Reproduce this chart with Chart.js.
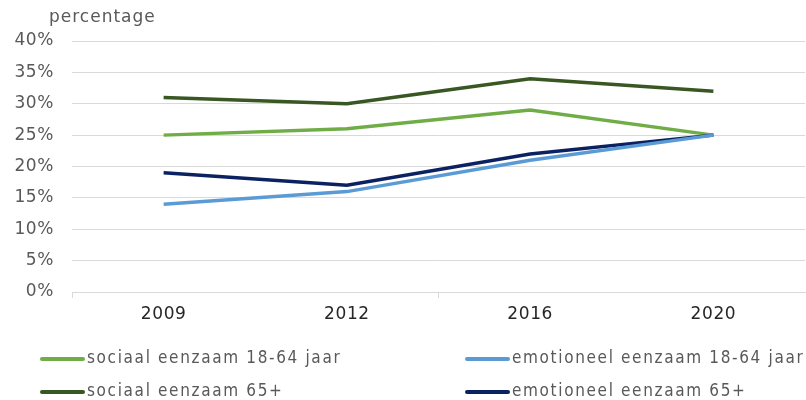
<!DOCTYPE html>
<html><head><meta charset="utf-8">
<script src="https://cdn.jsdelivr.net/npm/chart.js@4/dist/chart.umd.min.js"></script>
<style>html,body{margin:0;padding:0;background:#fff}#wrap{width:806px;height:400px;position:relative}</style>
</head><body><div id="wrap"><canvas id="c" width="806" height="400"></canvas></div>
<script>
const categories = ["2009", "2012", "2016", "2020"];
const sociaal1864 = [25, 26, 29, 25];
const emotioneel1864 = [14, 16, 21, 25];
const sociaal65 = [31, 30, 34, 32];
const emotioneel65 = [19, 17, 22, 25];
const seriesLabels = ["sociaal eenzaam 18-64 jaar", "emotioneel eenzaam 18-64 jaar", "sociaal eenzaam 65+", "emotioneel eenzaam 65+"];
const yTicks = [0, 5, 10, 15, 20, 25, 30, 35, 40];
const yTitle = "percentage";

const colors = ["#70AD47", "#5B9BD5", "#385723", "#0B2262"];
const dataArr = [sociaal1864, emotioneel1864, sociaal65, emotioneel65];
const order = [2, 0, 3, 1];

const spacingPlugin = {
  id: 'spacing',
  beforeUpdate(chart) { chart.ctx.letterSpacing = '0.6px'; },
  beforeDraw(chart) { chart.ctx.letterSpacing = '0.6px'; }
};

const legendPlugin = {
  id: 'customLegend',
  afterDraw(chart) {
    const ctx = chart.ctx;
    const ca = chart.chartArea;
    ctx.save();
    ctx.font = '17px "DejaVu Sans Condensed"';
    ctx.letterSpacing = '1.65px';
    ctx.textBaseline = 'middle';
    chart.data.datasets.forEach((ds, i) => {
      const col = i % 2, row = Math.floor(i / 2);
      const x = col === 0 ? 40 : 465;
      const y = ca.bottom + 67 + row * 33;
      ctx.strokeStyle = ds.borderColor;
      ctx.lineWidth = 4;
      ctx.lineCap = 'round';
      ctx.beginPath(); ctx.moveTo(x + 2, y); ctx.lineTo(x + 43, y); ctx.stroke();
      ctx.fillStyle = '#595959';
      ctx.fillText(ds.label, x + 47, y);
    });
    ctx.fillStyle = '#595959';
    ctx.font = '17px "DejaVu Sans"';
    ctx.letterSpacing = '1px';
    ctx.textBaseline = 'alphabetic';
    ctx.fillText(yTitle, ca.left - 23, ca.top - 19);
    ctx.restore();
  }
};

new Chart(document.getElementById('c'), {
  type: 'line',
  data: {
    labels: categories,
    datasets: dataArr.map((d, i) => ({
      label: seriesLabels[i],
      data: d,
      borderColor: colors[i],
      backgroundColor: colors[i],
      borderWidth: 3.5,
      pointRadius: 0,
      tension: 0,
      order: order[i]
    }))
  },
  options: {
    responsive: false,
    animation: false,
    layout: { padding: { top: 41, right: 1, bottom: 70, left: 0 } },
    plugins: { legend: { display: false }, tooltip: { enabled: false } },
    scales: {
      x: {
        offset: true,
        grid: {
          offset: true,
          drawOnChartArea: false,
          tickLength: 6,
          color: (c) => (c.index % 2 === 0 ? '#d9d9d9' : 'rgba(0,0,0,0)')
        },
        border: { color: '#d9d9d9', width: 1 },
        ticks: { color: '#262626', font: { family: 'DejaVu Sans', size: 17 }, padding: 6 },
        afterFit(s) { s.height = 38; }
      },
      y: {
        min: 0, max: 40,
        afterBuildTicks(s) { s.ticks = yTicks.map(v => ({ value: v })); },
        grid: { color: '#d9d9d9', drawTicks: false },
        border: { display: false },
        ticks: { color: '#595959', font: { family: 'DejaVu Sans', size: 17 }, padding: 18, callback: v => v + '%' },
        afterFit(s) { s.width = 72; }
      }
    }
  },
  plugins: [spacingPlugin, legendPlugin]
});
</script></body></html>
